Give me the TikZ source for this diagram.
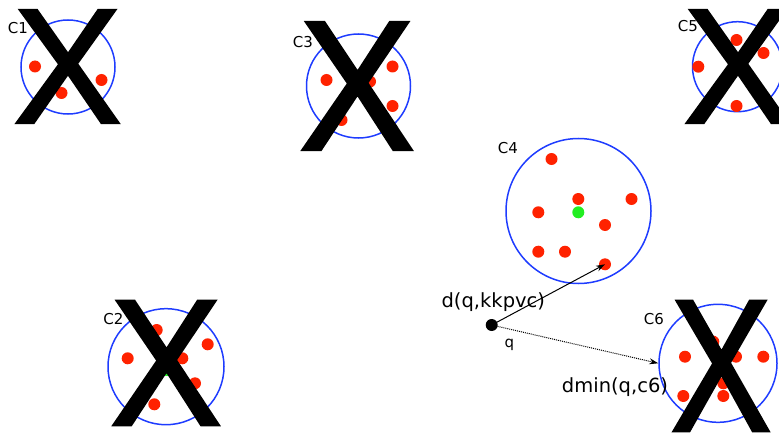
\documentclass[tikz,border=0pt]{standalone}
\usepackage{fontspec}
\usepackage{graphicx}
\setmainfont{DejaVu Sans}
\newfontfamily\xfont[FakeBold=1.5]{Liberation Sans}
\usetikzlibrary{arrows.meta}
\definecolor{cblue}{RGB}{30,60,255}
\definecolor{cred}{RGB}{255,34,0}
\definecolor{cgreen}{RGB}{34,238,34}
\begin{document}
\begin{tikzpicture}[x=1pt,y=-1pt,
  clus/.style={circle,draw=cblue,line width=1.5pt,inner sep=0pt,minimum size=#1},
  rdot/.style={circle,fill=cred,inner sep=0pt,minimum size=12pt},
  gdot/.style={circle,fill=cgreen,inner sep=0pt,minimum size=12pt},
  clab/.style={font=\fontsize{15}{15}\selectfont,inner sep=0pt},
  lab/.style={font=\fontsize{19.5}{19.5}\selectfont,inner sep=0pt},
  bigx/.style={font=\xfont\fontsize{100}{100}\selectfont,inner sep=0pt}]
\useasboundingbox (0,0) rectangle (779,433);
% C1
\node[clus=94pt] (c1) at (68,67) {};
\node[rdot] (c1a) at (35,66.5) {};
\node[rdot] (c1b) at (101.5,80) {};
\node[rdot] (c1c) at (61.5,93) {};
\node[clab] (l1) at (18,28) {C1};
% C3
\node[clus=104pt] (c3) at (358.5,86) {};
\node[rdot] (c3a) at (326.5,80) {};
\node[rdot] (c3b) at (392.5,66.5) {};
\node[rdot] (c3c) at (392.5,106) {};
\node[rdot] (c3d) at (341.5,120) {};
\node[rdot] (c3e) at (370,81.5) {};
\node[clab] (l3) at (303,42) {C3};
% C5
\node[clus=90pt] (c5) at (737.5,66.7) {};
\node[rdot] (c5a) at (736.5,40) {};
\node[rdot] (c5b) at (763.5,53) {};
\node[rdot] (c5c) at (698.3,66.7) {};
\node[rdot] (c5d) at (736.5,106) {};
\node[clab] (l5) at (688,26.5) {C5};
% C4
\node[clus=145pt] (c4) at (578.5,211) {};
\node[rdot] (c4a) at (551.5,159) {};
\node[rdot] (c4b) at (578.3,199) {};
\node[rdot] (c4c) at (631.5,199) {};
\node[rdot] (c4d) at (538.3,212.3) {};
\node[gdot] (c4g) at (578.3,212.3) {};
\node[rdot] (c4e) at (605,225) {};
\node[rdot] (c4f) at (538.3,251.7) {};
\node[rdot] (c4h) at (565,251.7) {};
\node[rdot] (c4k) at (605,264.3) {};
\node[clab] (l4) at (508,148) {C4};
% C2
\node[clus=116pt] (c2) at (166,366.7) {};
\node[rdot] (c2a) at (127.7,358.3) {};
\node[rdot] (c2b) at (207.7,344.3) {};
\node[rdot] (c2c) at (182.3,358.3) {};
\node[rdot] (c2d) at (154.3,404.3) {};
\node[rdot] (c2e) at (195,383.3) {};
\node[rdot] (c2f) at (156.7,330) {};
\node[gdot] (c2g) at (166.7,370) {};
\node[clab] (l2) at (113.3,319.3) {C2};
% C6
\node[clus=118pt] (c6) at (718,363.3) {};
\node[rdot] (c6a) at (685,356.7) {};
\node[rdot] (c6b) at (736,356.7) {};
\node[rdot] (c6c) at (763.3,356.7) {};
\node[rdot] (c6d) at (683.3,396) {};
\node[rdot] (c6e) at (723.3,396) {};
\node[rdot] (c6f) at (723.3,383.3) {};
\node[rdot] (c6g) at (713.3,341.7) {};
\node[clab] (l6) at (654,319.3) {C6};
% big X marks
\node[bigx] (x1) at (67.5,66.5) {\scalebox{1.63}[1.64]{X}};
\node[bigx] (x3) at (357,86) {\scalebox{1.74}[1.85]{X}};
\node[bigx] (x5) at (737.5,66.5) {\scalebox{1.63}[1.64]{X}};
\node[bigx] (x2) at (166,363) {\scalebox{1.68}[1.80]{X}};
\node[bigx] (x6) at (721,366) {\scalebox{1.52}[1.89]{X}};
% query
\node[circle,fill=black,inner sep=0pt,minimum size=12pt] (q) at (491.7,325) {};
\node[clab] (lq) at (509.3,345) {q};
\draw[line width=1pt,-{Stealth[length=9pt,width=6pt]}] (q.center) -- (c4k.center);
\draw[line width=1pt,densely dotted,-{Stealth[length=9pt,width=6pt]}] (q.center) -- (c6.west);
\node[lab] (ld) at (493.3,301.7) {d(q,kkpvc)};
\node[lab] (lm) at (615,386.7) {dmin(q,c6)};
\end{tikzpicture}
\end{document}
